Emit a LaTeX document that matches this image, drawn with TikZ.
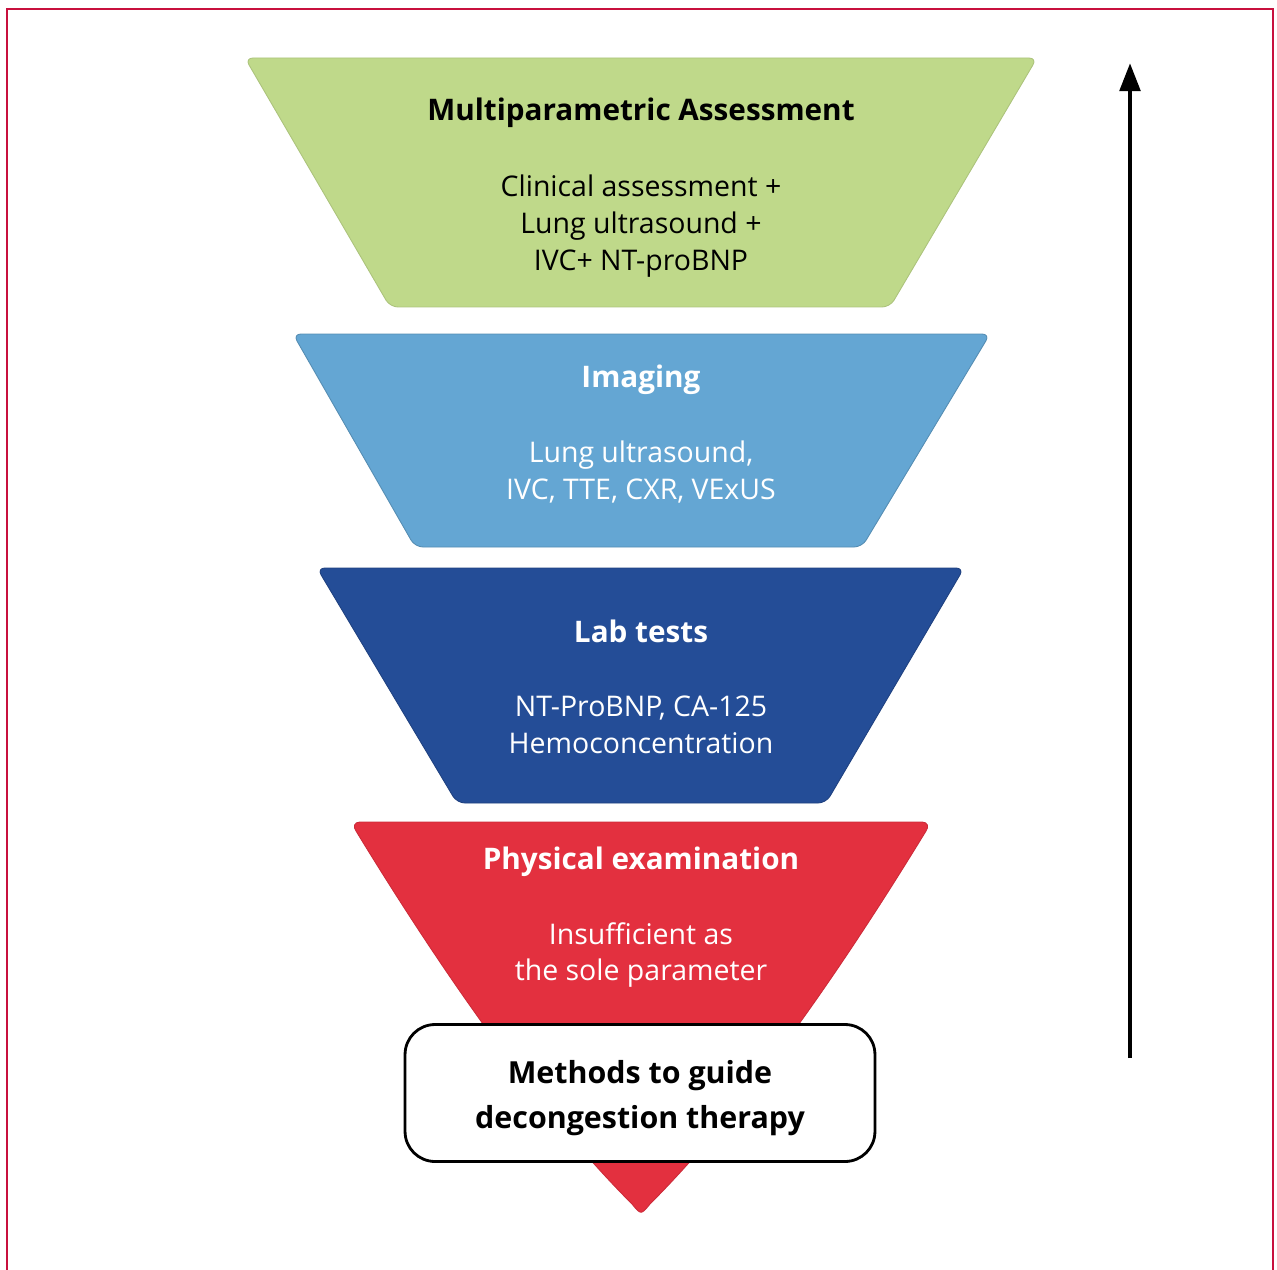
\documentclass[tikz,border=0pt]{standalone}
\usepackage{fontspec}
\setmainfont{Open Sans}
\usetikzlibrary{arrows.meta}
\definecolor{frameRed}{HTML}{C8103E}
\definecolor{layerGreen}{HTML}{BFD98A}
\definecolor{layerSky}{HTML}{64A6D3}
\definecolor{layerNavy}{HTML}{244D97}
\definecolor{layerRed}{HTML}{E3303F}
\begin{document}
\begin{tikzpicture}[x=0.02cm, y=-0.02cm,
        layer/.style={rounded corners=4.5pt, line width=0.5pt},
        head/.style={font=\bfseries\fontsize{16.9}{20}\selectfont, align=center},
        body/.style={font=\fontsize{16.2}{21}\selectfont, align=center}]
        % Frame and bounding box:
        \useasboundingbox (0, 0) rectangle (1277, 1270);
        \draw[frameRed, line width=1.6pt] (7, 1290) |- (1273, 9) -- (1273, 1290);
        % Layers of the funnel:
        \filldraw[layer, fill=layerGreen, draw=layerGreen!90!black] (245, 58) -- (1037, 58) -- (890, 307) -- (390, 307) -- cycle;
        \filldraw[layer, fill=layerSky, draw=layerSky!85!black] (293, 334) -- (990, 334) -- (862, 547) -- (415, 547) -- cycle;
        \filldraw[layer, fill=layerNavy, draw=layerNavy!85!black] (317, 568) -- (964, 568) -- (826, 803) -- (457, 803) -- cycle;
        \filldraw[line width=0.5pt, fill=layerRed, draw=layerRed!90!black] (360, 822) -- (922, 822) .. controls (928, 822) and (929, 827) .. (926, 831) .. controls (835, 980) and (740, 1114) .. (650, 1204) .. controls (641, 1215) .. (632, 1204) .. controls (542, 1114) and (447, 980) .. (356, 831) .. controls (353, 827) and (354, 822) .. (360, 822) -- cycle;
        % Texts:
        \node[head] (N1) at (641, 113){Multiparametric Assessment};
        \node[body] (N2) at (641, 226){Clinical assessment +\\Lung ultrasound +\\IVC+ NT-proBNP};
        \node[head, white] (N3) at (641, 380){Imaging};
        \node[body, white] (N4) at (641, 472){Lung ultrasound,\\IVC, TTE, CXR, VExUS};
        \node[head, white] (N5) at (641, 631){Lab tests};
        \node[body, white] (N6) at (641, 725){NT-ProBNP, CA-125\\Hemoconcentration};
        \node[head, white] (N7) at (641, 862){Physical examination};
        \node[body, white] (N8) at (641, 955){Insufficient as\\the sole parameter};
        \node[draw, fill=white, line width=1.6pt, rounded corners=0.6cm, minimum width=9.4cm, minimum height=2.74cm] (N9) at (640, 1093){};
        \node[font=\bfseries\fontsize{17.3}{25.5}\selectfont, align=center] (N10) at (640, 1098){Methods to guide\\decongestion therapy};
        % Arrow:
        \coordinate (C1) at (1130, 1058);
        \coordinate (C2) at (1130, 63);
        \draw[line width=2.8pt, -{Triangle[length=16pt, width=11.5pt]}] (C1) -- (C2);
    \end{tikzpicture}
\end{document}
